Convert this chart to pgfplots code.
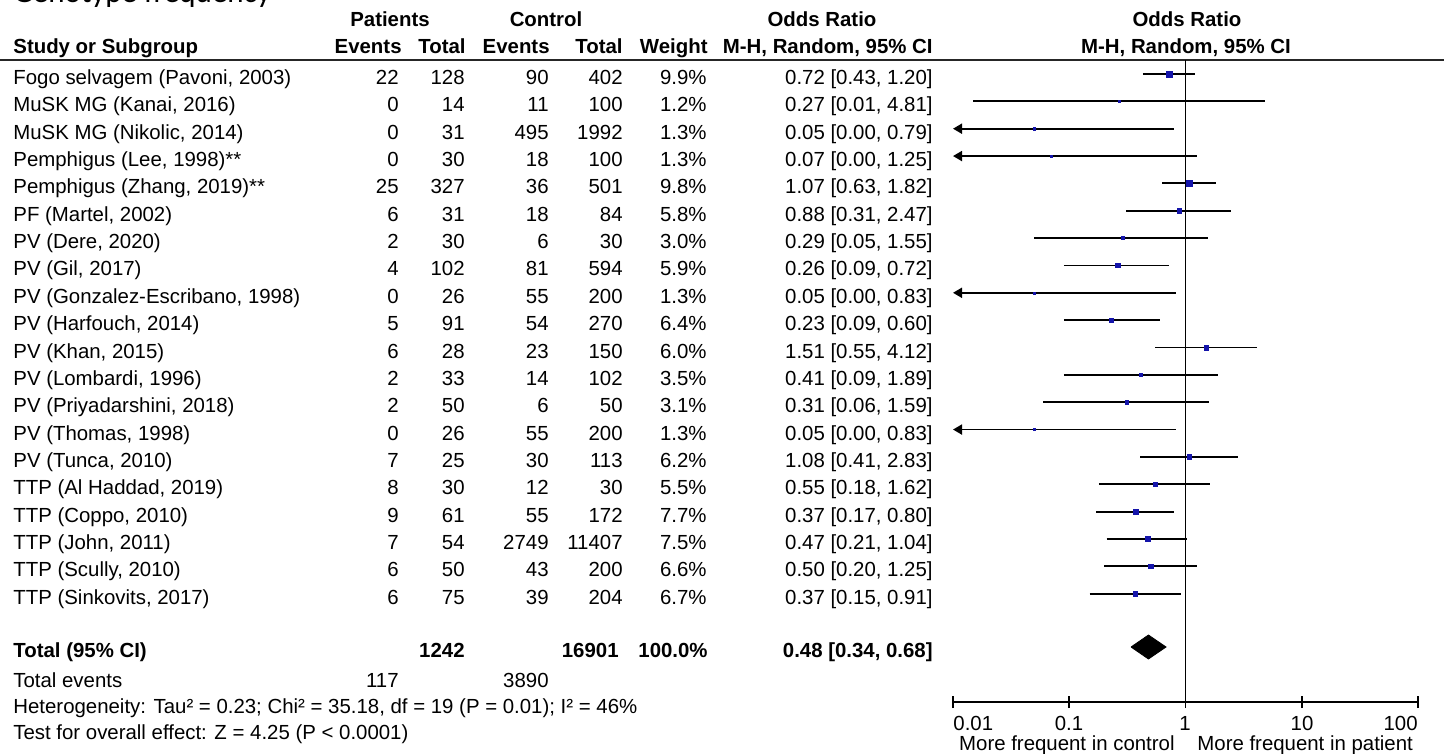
\documentclass[border=0pt]{standalone}
\usepackage{pgfplots}
\pgfplotsset{compat=1.18}
\usepackage{pgfplotstable}
\usepackage{fontspec}
\setmainfont{Liberation Sans}
\newfontfamily\titlefont{Carlito}
\usetikzlibrary{arrows.meta}
\definecolor{sqblue}{RGB}{20,20,170}

% y = pixel row of the estimate, or = odds ratio, w = weight (%)
\pgfplotstableread{
y      or    w
74.00  0.72  9.9
101.35 0.27  1.2
128.70 0.05  1.3
156.05 0.07  1.3
183.40 1.07  9.8
210.75 0.88  5.8
238.10 0.29  3.0
265.45 0.26  5.9
292.80 0.05  1.3
320.15 0.23  6.4
347.50 1.51  6.0
374.85 0.41  3.5
402.20 0.31  3.1
429.55 0.05  1.3
456.90 1.08  6.2
484.25 0.55  5.5
511.60 0.37  7.7
538.95 0.47  7.5
566.30 0.50  6.6
593.65 0.37  6.7
}\studies

% one line of the table: index, study, patients ev/tot, control ev/tot, weight, OR text
\newcommand\studyrow[8]{%
  \pgfmathsetmacro\yb{84.5+27.35*#1}%
  \node[anchor=base west] at (13,\yb) {#2};%
  \node[anchor=base east] at (399,\yb) {#3};%
  \node[anchor=base east] at (465,\yb) {#4};%
  \node[anchor=base east] at (549,\yb) {#5};%
  \node[anchor=base east] at (623,\yb) {#6};%
  \node[anchor=base east] at (707,\yb) {#7\%};%
  \node[anchor=base east] at (933,\yb) {#8};%
}

\begin{document}
\begin{tikzpicture}
\useasboundingbox (0,0) rectangle (722pt,-377pt);
\clip (0,0) rectangle (722pt,-377pt);

\begin{scope}[x=0.5pt, y=-0.5pt, every node/.style={inner sep=0pt},
  font=\fontsize{10.2}{12}\selectfont]
  \node[anchor=base west, font=\titlefont\fontsize{15.5}{18}\selectfont] at (13,3) {Genotype frequency};

  % header
  \begin{scope}[font=\fontsize{10.2}{12}\selectfont\bfseries]
    \node[anchor=base] at (390,27) {Patients};
    \node[anchor=base] at (546,27) {Control};
    \node[anchor=base] at (822,27) {Odds Ratio};
    \node[anchor=base] at (1187,27) {Odds Ratio};
    \node[anchor=base west] at (13,53.5) {Study or Subgroup};
    \node[anchor=base east] at (402,53.5) {Events};
    \node[anchor=base east] at (466,53.5) {Total};
    \node[anchor=base east] at (550,53.5) {Events};
    \node[anchor=base east] at (623,53.5) {Total};
    \node[anchor=base east] at (708,53.5) {Weight};
    \node[anchor=base east] at (933,53.5) {M-H, Random, 95\% CI};
    \node[anchor=base] at (1186,53.5) {M-H, Random, 95\% CI};
  \end{scope}
  \draw[line width=1.3pt, black!85] (0,60) -- (1444,60);

  \studyrow{0}{Fogo selvagem (Pavoni, 2003)}{22}{128}{90}{402}{9.9}{0.72 [0.43, 1.20]}
  \studyrow{1}{MuSK MG (Kanai, 2016)}{0}{14}{11}{100}{1.2}{0.27 [0.01, 4.81]}
  \studyrow{2}{MuSK MG (Nikolic, 2014)}{0}{31}{495}{1992}{1.3}{0.05 [0.00, 0.79]}
  \studyrow{3}{Pemphigus (Lee, 1998)**}{0}{30}{18}{100}{1.3}{0.07 [0.00, 1.25]}
  \studyrow{4}{Pemphigus (Zhang, 2019)**}{25}{327}{36}{501}{9.8}{1.07 [0.63, 1.82]}
  \studyrow{5}{PF (Martel, 2002)}{6}{31}{18}{84}{5.8}{0.88 [0.31, 2.47]}
  \studyrow{6}{PV (Dere, 2020)}{2}{30}{6}{30}{3.0}{0.29 [0.05, 1.55]}
  \studyrow{7}{PV (Gil, 2017)}{4}{102}{81}{594}{5.9}{0.26 [0.09, 0.72]}
  \studyrow{8}{PV (Gonzalez-Escribano, 1998)}{0}{26}{55}{200}{1.3}{0.05 [0.00, 0.83]}
  \studyrow{9}{PV (Harfouch, 2014)}{5}{91}{54}{270}{6.4}{0.23 [0.09, 0.60]}
  \studyrow{10}{PV (Khan, 2015)}{6}{28}{23}{150}{6.0}{1.51 [0.55, 4.12]}
  \studyrow{11}{PV (Lombardi, 1996)}{2}{33}{14}{102}{3.5}{0.41 [0.09, 1.89]}
  \studyrow{12}{PV (Priyadarshini, 2018)}{2}{50}{6}{50}{3.1}{0.31 [0.06, 1.59]}
  \studyrow{13}{PV (Thomas, 1998)}{0}{26}{55}{200}{1.3}{0.05 [0.00, 0.83]}
  \studyrow{14}{PV (Tunca, 2010)}{7}{25}{30}{113}{6.2}{1.08 [0.41, 2.83]}
  \studyrow{15}{TTP (Al Haddad, 2019)}{8}{30}{12}{30}{5.5}{0.55 [0.18, 1.62]}
  \studyrow{16}{TTP (Coppo, 2010)}{9}{61}{55}{172}{7.7}{0.37 [0.17, 0.80]}
  \studyrow{17}{TTP (John, 2011)}{7}{54}{2749}{11407}{7.5}{0.47 [0.21, 1.04]}
  \studyrow{18}{TTP (Scully, 2010)}{6}{50}{43}{200}{6.6}{0.50 [0.20, 1.25]}
  \studyrow{19}{TTP (Sinkovits, 2017)}{6}{75}{39}{204}{6.7}{0.37 [0.15, 0.91]}

  % totals
  \begin{scope}[font=\fontsize{10.2}{12}\selectfont\bfseries]
    \node[anchor=base west] at (13,657) {Total (95\% CI)};
    \node[anchor=base east] at (465,657) {1242};
    \node[anchor=base east] at (619,657) {16901};
    \node[anchor=base east] at (708,657) {100.0\%};
    \node[anchor=base east] at (933,657) {0.48 [0.34, 0.68]};
  \end{scope}
  \node[anchor=base west] at (13,687) {Total events};
  \node[anchor=base east] at (399,687) {117};
  \node[anchor=base east] at (549,687) {3890};
  \node[anchor=base west] at (13,713) {Heterogeneity: Tau² = 0.23; Chi² = 35.18, df = 19 (P = 0.01); I² = 46\%};
  \node[anchor=base west] at (13,739) {Test for overall effect: Z = 4.25 (P < 0.0001)};

  % scale labels
  \node[anchor=base west] at (953,730) {0.01};
  \node[anchor=base] at (1069,730) {0.1};
  \node[anchor=base] at (1185,730) {1};
  \node[anchor=base] at (1302,730) {10};
  \node[anchor=base east] at (1418,730) {100};
  \node[anchor=base east] at (1175,750) {More frequent in control};
  \node[anchor=base west] at (1197,750) {More frequent in patient};
\end{scope}

\begin{axis}[
  at={(476.5pt,-351pt)}, anchor=south west,
  scale only axis, width=232.5pt, height=321pt,
  xmode=log, xmin=0.01, xmax=100,
  ymin=-702, ymax=-60,
  enlargelimits=false, clip=false,
  axis x line=bottom, axis y line=none,
  x axis line style={-, line width=0.9pt},
  xtick={0.01,0.1,1,10,100}, xticklabels={,,,,}, xminorticks=false,
  tick align=center, major tick length=6pt,
  every tick/.style={black, line width=0.9pt},
  ci/.style={black, line width=0.9pt, no markers},
  arr/.style={{Triangle[length=4.5pt,width=5pt]}-},
]
% line of no effect
\addplot[ci] coordinates {(1,-60) (1,-702)};

% confidence intervals
\addplot[ci] coordinates {(0.43,-74.00) (1.20,-74.00)};
\addplot[ci] coordinates {(0.015,-101.35) (4.81,-101.35)};
\addplot[ci,arr] coordinates {(0.01,-128.70) (0.79,-128.70)};
\addplot[ci,arr] coordinates {(0.01,-156.05) (1.25,-156.05)};
\addplot[ci] coordinates {(0.63,-183.40) (1.82,-183.40)};
\addplot[ci] coordinates {(0.31,-210.75) (2.47,-210.75)};
\addplot[ci] coordinates {(0.05,-238.10) (1.55,-238.10)};
\addplot[ci] coordinates {(0.09,-265.45) (0.72,-265.45)};
\addplot[ci,arr] coordinates {(0.01,-292.80) (0.83,-292.80)};
\addplot[ci] coordinates {(0.09,-320.15) (0.60,-320.15)};
\addplot[ci] coordinates {(0.55,-347.50) (4.12,-347.50)};
\addplot[ci] coordinates {(0.09,-374.85) (1.89,-374.85)};
\addplot[ci] coordinates {(0.06,-402.20) (1.59,-402.20)};
\addplot[ci,arr] coordinates {(0.01,-429.55) (0.83,-429.55)};
\addplot[ci] coordinates {(0.41,-456.90) (2.83,-456.90)};
\addplot[ci] coordinates {(0.18,-484.25) (1.62,-484.25)};
\addplot[ci] coordinates {(0.17,-511.60) (0.80,-511.60)};
\addplot[ci] coordinates {(0.21,-538.95) (1.04,-538.95)};
\addplot[ci] coordinates {(0.20,-566.30) (1.25,-566.30)};
\addplot[ci] coordinates {(0.15,-593.65) (0.91,-593.65)};

% study estimates, square side grows with weight
\addplot[scatter, only marks, mark=square*,
  scatter/use mapped color={draw=sqblue, fill=sqblue},
  mark options={line width=0.2pt},
  visualization depends on={0.46*sqrt(\thisrow{w}) \as \ms},
  scatter/@pre marker code/.append style={/tikz/mark size=\ms}]
  table[x=or, y expr=-\thisrow{y}] {\studies};

% pooled estimate
\addplot[fill=black, draw=black] coordinates
  {(0.34,-647) (0.48,-635) (0.68,-647) (0.48,-659) (0.34,-647)};
\end{axis}
\end{tikzpicture}
\end{document}
